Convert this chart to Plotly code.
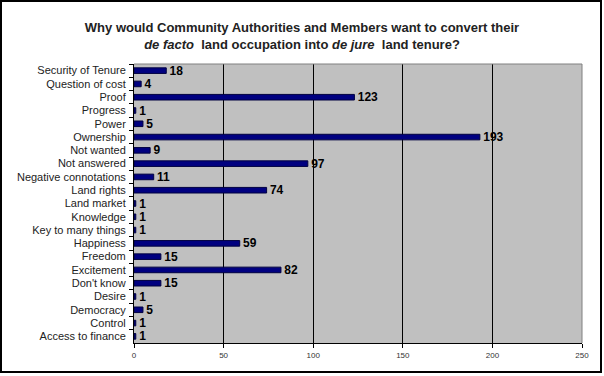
import plotly.graph_objects as go

categories = ["Security of Tenure", "Question of cost", "Proof", "Progress", "Power",
              "Ownership", "Not wanted", "Not answered", "Negative connotations",
              "Land rights", "Land market", "Knowledge", "Key to many things",
              "Happiness", "Freedom", "Excitement", "Don't know", "Desire",
              "Democracy", "Control", "Access to finance"]
values = [18, 4, 123, 1, 5, 193, 9, 97, 11, 74, 1, 1, 1, 59, 15, 82, 15, 1, 5, 1, 1]
x_ticks = [0, 50, 100, 150, 200, 250]

W, H = 604, 376
L, R, T, B = 134, 22, 64, 33
pw, ph = W - L - R, H - T - B

fig = go.Figure(go.Bar(
    x=values, y=categories, orientation="h",
    marker=dict(color="#000080", line=dict(color="#000040", width=1)),
    width=0.42,
    texttemplate=" %{x}", textposition="outside",
    textfont=dict(family="Arial", size=12, color="black", weight="bold"),
    constraintext="none",
    cliponaxis=False,
    hoverinfo="skip",
))

def px2paper_x(p):
    return (p - L) / pw

def px2paper_y(p):
    return (H - B - p) / ph

fig.update_layout(
    width=W, height=H,
    margin=dict(l=L, r=R, t=T, b=B, autoexpand=False),
    paper_bgcolor="white", plot_bgcolor="#C0C0C0",
    showlegend=False,
    title=dict(
        text="<b>Why would Community Authorities and Members want to convert their<br>"
             "<i>de facto</i>  land occupation into <i>de jure</i>  land tenure?</b>",
        x=0.5, xanchor="center", y=(H - 32) / H, yanchor="middle",
        font=dict(family="Arial", size=13, color="#222222"),
    ),
    xaxis=dict(
        range=[0, 250], tickvals=x_ticks, showgrid=True, gridcolor="black", gridwidth=1,
        zeroline=False, showline=True, linecolor="black", linewidth=1,
        ticks="outside", ticklen=4, tickcolor="black", automargin=False,
        tickfont=dict(family="Arial", size=8, color="#333333"),
    ),
    yaxis=dict(
        autorange="reversed", showgrid=False, zeroline=False,
        showline=True, linecolor="black", linewidth=1,
        ticks="outside", ticklen=4, tickcolor="black", tickson="boundaries",
        ticklabelstandoff=5, automargin=False,
        tickfont=dict(family="Arial", size=11, color="#222222"),
    ),
    bargap=0.58,
    shapes=[
        dict(type="line", xref="paper", yref="paper", x0=0, x1=1, y0=1, y1=1,
             line=dict(color="#808080", width=1)),
        dict(type="line", xref="paper", yref="paper", x0=1, x1=1, y0=0, y1=1,
             line=dict(color="#808080", width=1)),
        dict(type="rect", xref="paper", yref="paper",
             x0=px2paper_x(1), x1=px2paper_x(601), y0=px2paper_y(372), y1=px2paper_y(1),
             line=dict(color="black", width=2), fillcolor="rgba(0,0,0,0)"),
    ],
)

fig.write_html("out.html", config={"displayModeBar": False},
               post_script="document.body.style.margin='0';document.body.style.overflow='hidden';")
